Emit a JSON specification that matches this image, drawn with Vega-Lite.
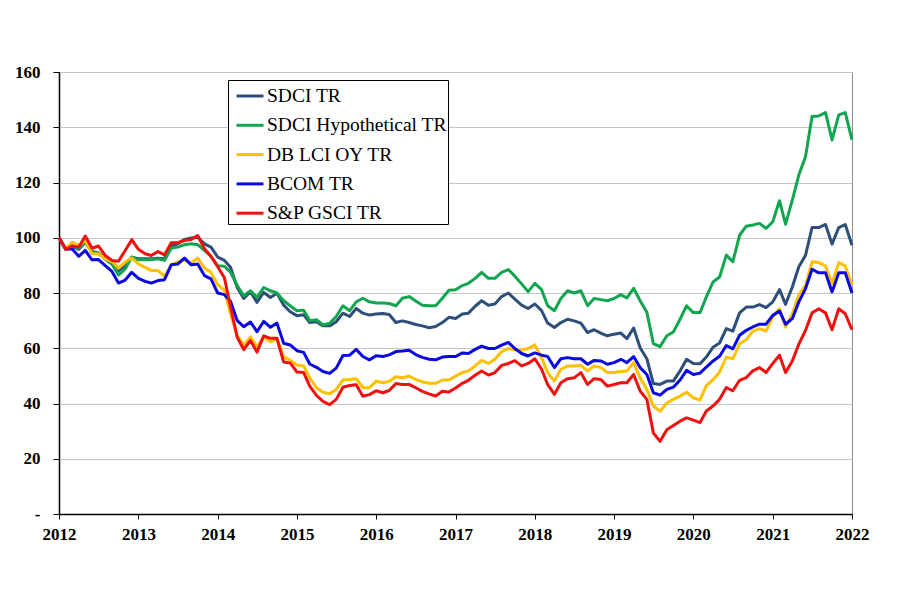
{
"$schema": "https://vega.github.io/schema/vega-lite/v6.json",
"width": 793, "height": 442,
"autosize": {"type": "none"},
"padding": {"left": 59, "top": 72, "right": 48, "bottom": 97},
"background": "white",
"config": {"view": {"stroke": "#8c8c8c", "strokeWidth": 1}, "font": "Liberation Serif"},
"data": {"values": [
{"date":"2012-01","SDCI TR":100,"SDCI Hypothetical TR":100,"DB LCI OY TR":100,"BCOM TR":100,"S&P GSCI TR":100},
{"date":"2012-02","SDCI TR":95.8,"SDCI Hypothetical TR":96,"DB LCI OY TR":96,"BCOM TR":95.8,"S&P GSCI TR":95.8},
{"date":"2012-03","SDCI TR":97,"SDCI Hypothetical TR":97,"DB LCI OY TR":98.4,"BCOM TR":96,"S&P GSCI TR":97},
{"date":"2012-04","SDCI TR":95.8,"SDCI Hypothetical TR":96.2,"DB LCI OY TR":97.2,"BCOM TR":93.3,"S&P GSCI TR":96.6},
{"date":"2012-05","SDCI TR":98.4,"SDCI Hypothetical TR":98.4,"DB LCI OY TR":99,"BCOM TR":95.4,"S&P GSCI TR":100.6},
{"date":"2012-06","SDCI TR":95,"SDCI Hypothetical TR":95,"DB LCI OY TR":94.2,"BCOM TR":92,"S&P GSCI TR":96.2},
{"date":"2012-07","SDCI TR":94.5,"SDCI Hypothetical TR":94.2,"DB LCI OY TR":94.2,"BCOM TR":92.1,"S&P GSCI TR":97},
{"date":"2012-08","SDCI TR":92.4,"SDCI Hypothetical TR":92.4,"DB LCI OY TR":92.4,"BCOM TR":89.9,"S&P GSCI TR":93.6},
{"date":"2012-09","SDCI TR":90.5,"SDCI Hypothetical TR":90.5,"DB LCI OY TR":91.4,"BCOM TR":87.8,"S&P GSCI TR":91.8},
{"date":"2012-10","SDCI TR":88.1,"SDCI Hypothetical TR":86.5,"DB LCI OY TR":89,"BCOM TR":83.6,"S&P GSCI TR":91.5},
{"date":"2012-11","SDCI TR":89.7,"SDCI Hypothetical TR":88.7,"DB LCI OY TR":91.2,"BCOM TR":84.7,"S&P GSCI TR":95.4},
{"date":"2012-12","SDCI TR":93,"SDCI Hypothetical TR":93,"DB LCI OY TR":92.7,"BCOM TR":87.5,"S&P GSCI TR":99.3},
{"date":"2013-01","SDCI TR":92.4,"SDCI Hypothetical TR":92,"DB LCI OY TR":90.5,"BCOM TR":85.3,"S&P GSCI TR":95.8},
{"date":"2013-02","SDCI TR":92.4,"SDCI Hypothetical TR":92,"DB LCI OY TR":89.3,"BCOM TR":84.2,"S&P GSCI TR":94.2},
{"date":"2013-03","SDCI TR":92.4,"SDCI Hypothetical TR":92,"DB LCI OY TR":88.1,"BCOM TR":83.6,"S&P GSCI TR":93.6},
{"date":"2013-04","SDCI TR":92.6,"SDCI Hypothetical TR":92.4,"DB LCI OY TR":88.1,"BCOM TR":84.5,"S&P GSCI TR":95},
{"date":"2013-05","SDCI TR":92.4,"SDCI Hypothetical TR":91.8,"DB LCI OY TR":86.1,"BCOM TR":84.8,"S&P GSCI TR":93.8},
{"date":"2013-06","SDCI TR":97,"SDCI Hypothetical TR":96.2,"DB LCI OY TR":90.2,"BCOM TR":90.2,"S&P GSCI TR":98.2},
{"date":"2013-07","SDCI TR":97.8,"SDCI Hypothetical TR":96.6,"DB LCI OY TR":91.2,"BCOM TR":90.5,"S&P GSCI TR":98.2},
{"date":"2013-08","SDCI TR":99.4,"SDCI Hypothetical TR":97.5,"DB LCI OY TR":91.8,"BCOM TR":92.6,"S&P GSCI TR":99},
{"date":"2013-09","SDCI TR":99.9,"SDCI Hypothetical TR":97.8,"DB LCI OY TR":90.9,"BCOM TR":90.2,"S&P GSCI TR":99.4},
{"date":"2013-10","SDCI TR":100.2,"SDCI Hypothetical TR":97.5,"DB LCI OY TR":92.6,"BCOM TR":90.5,"S&P GSCI TR":100.8},
{"date":"2013-11","SDCI TR":97.8,"SDCI Hypothetical TR":95.4,"DB LCI OY TR":89,"BCOM TR":86.3,"S&P GSCI TR":96},
{"date":"2013-12","SDCI TR":96.6,"SDCI Hypothetical TR":93.3,"DB LCI OY TR":87.5,"BCOM TR":85.1,"S&P GSCI TR":93.3},
{"date":"2014-01","SDCI TR":93,"SDCI Hypothetical TR":89.9,"DB LCI OY TR":83,"BCOM TR":80,"S&P GSCI TR":89.5},
{"date":"2014-02","SDCI TR":91.8,"SDCI Hypothetical TR":89.7,"DB LCI OY TR":81,"BCOM TR":79.4,"S&P GSCI TR":85.5},
{"date":"2014-03","SDCI TR":89.3,"SDCI Hypothetical TR":87.5,"DB LCI OY TR":72.5,"BCOM TR":77,"S&P GSCI TR":75},
{"date":"2014-04","SDCI TR":82,"SDCI Hypothetical TR":82.7,"DB LCI OY TR":64.7,"BCOM TR":70,"S&P GSCI TR":64},
{"date":"2014-05","SDCI TR":78,"SDCI Hypothetical TR":79,"DB LCI OY TR":61.1,"BCOM TR":67.8,"S&P GSCI TR":59.5},
{"date":"2014-06","SDCI TR":80.5,"SDCI Hypothetical TR":80.8,"DB LCI OY TR":64.1,"BCOM TR":69.5,"S&P GSCI TR":62.8},
{"date":"2014-07","SDCI TR":76.6,"SDCI Hypothetical TR":78.4,"DB LCI OY TR":60.5,"BCOM TR":66,"S&P GSCI TR":58.6},
{"date":"2014-08","SDCI TR":80.2,"SDCI Hypothetical TR":82,"DB LCI OY TR":64.1,"BCOM TR":69.7,"S&P GSCI TR":64.5},
{"date":"2014-09","SDCI TR":78.4,"SDCI Hypothetical TR":80.8,"DB LCI OY TR":62.3,"BCOM TR":67.6,"S&P GSCI TR":63.6},
{"date":"2014-10","SDCI TR":79.9,"SDCI Hypothetical TR":80,"DB LCI OY TR":63.5,"BCOM TR":69.1,"S&P GSCI TR":63.6},
{"date":"2014-11","SDCI TR":75.6,"SDCI Hypothetical TR":77.2,"DB LCI OY TR":56.9,"BCOM TR":61.8,"S&P GSCI TR":55},
{"date":"2014-12","SDCI TR":73.2,"SDCI Hypothetical TR":75.4,"DB LCI OY TR":55.7,"BCOM TR":61.2,"S&P GSCI TR":54.7},
{"date":"2015-01","SDCI TR":71.8,"SDCI Hypothetical TR":73.6,"DB LCI OY TR":53.9,"BCOM TR":59.1,"S&P GSCI TR":51.4},
{"date":"2015-02","SDCI TR":72.1,"SDCI Hypothetical TR":73.8,"DB LCI OY TR":53.6,"BCOM TR":58.5,"S&P GSCI TR":51.2},
{"date":"2015-03","SDCI TR":69.3,"SDCI Hypothetical TR":70,"DB LCI OY TR":49.3,"BCOM TR":54.3,"S&P GSCI TR":46.3},
{"date":"2015-04","SDCI TR":69.6,"SDCI Hypothetical TR":70.3,"DB LCI OY TR":45.7,"BCOM TR":53.1,"S&P GSCI TR":42.9},
{"date":"2015-05","SDCI TR":68.1,"SDCI Hypothetical TR":68.5,"DB LCI OY TR":44.1,"BCOM TR":51.6,"S&P GSCI TR":40.8},
{"date":"2015-06","SDCI TR":68.1,"SDCI Hypothetical TR":69,"DB LCI OY TR":43.5,"BCOM TR":50.9,"S&P GSCI TR":39.6},
{"date":"2015-07","SDCI TR":69.6,"SDCI Hypothetical TR":71.5,"DB LCI OY TR":45.1,"BCOM TR":52.8,"S&P GSCI TR":41.5},
{"date":"2015-08","SDCI TR":72.7,"SDCI Hypothetical TR":75.4,"DB LCI OY TR":48.5,"BCOM TR":57.4,"S&P GSCI TR":45.9},
{"date":"2015-09","SDCI TR":71.5,"SDCI Hypothetical TR":73.6,"DB LCI OY TR":48.7,"BCOM TR":57.5,"S&P GSCI TR":46.5},
{"date":"2015-10","SDCI TR":74.4,"SDCI Hypothetical TR":76.8,"DB LCI OY TR":49,"BCOM TR":59.6,"S&P GSCI TR":46.8},
{"date":"2015-11","SDCI TR":72.7,"SDCI Hypothetical TR":78.1,"DB LCI OY TR":45.7,"BCOM TR":57,"S&P GSCI TR":42.6},
{"date":"2015-12","SDCI TR":72,"SDCI Hypothetical TR":76.8,"DB LCI OY TR":45.7,"BCOM TR":55.8,"S&P GSCI TR":43.2},
{"date":"2016-01","SDCI TR":72.4,"SDCI Hypothetical TR":76.4,"DB LCI OY TR":48.1,"BCOM TR":57.3,"S&P GSCI TR":44.6},
{"date":"2016-02","SDCI TR":72.6,"SDCI Hypothetical TR":76.4,"DB LCI OY TR":47.5,"BCOM TR":57,"S&P GSCI TR":43.9},
{"date":"2016-03","SDCI TR":72.2,"SDCI Hypothetical TR":76.2,"DB LCI OY TR":48,"BCOM TR":57.6,"S&P GSCI TR":44.7},
{"date":"2016-04","SDCI TR":69.3,"SDCI Hypothetical TR":75.4,"DB LCI OY TR":49.7,"BCOM TR":58.8,"S&P GSCI TR":47.2},
{"date":"2016-05","SDCI TR":69.9,"SDCI Hypothetical TR":78.1,"DB LCI OY TR":49.3,"BCOM TR":59,"S&P GSCI TR":46.9},
{"date":"2016-06","SDCI TR":69.3,"SDCI Hypothetical TR":78.7,"DB LCI OY TR":49.9,"BCOM TR":59.3,"S&P GSCI TR":46.9},
{"date":"2016-07","SDCI TR":68.6,"SDCI Hypothetical TR":77.1,"DB LCI OY TR":48.7,"BCOM TR":57.7,"S&P GSCI TR":45.7},
{"date":"2016-08","SDCI TR":68.1,"SDCI Hypothetical TR":75.6,"DB LCI OY TR":47.8,"BCOM TR":56.7,"S&P GSCI TR":44.4},
{"date":"2016-09","SDCI TR":67.4,"SDCI Hypothetical TR":75.4,"DB LCI OY TR":47.3,"BCOM TR":56,"S&P GSCI TR":43.5},
{"date":"2016-10","SDCI TR":67.9,"SDCI Hypothetical TR":75.4,"DB LCI OY TR":47.3,"BCOM TR":55.8,"S&P GSCI TR":42.7},
{"date":"2016-11","SDCI TR":69.3,"SDCI Hypothetical TR":78.1,"DB LCI OY TR":48.5,"BCOM TR":56.8,"S&P GSCI TR":44.4},
{"date":"2016-12","SDCI TR":71.2,"SDCI Hypothetical TR":81,"DB LCI OY TR":48.5,"BCOM TR":57,"S&P GSCI TR":44.2},
{"date":"2017-01","SDCI TR":70.8,"SDCI Hypothetical TR":81.2,"DB LCI OY TR":49.9,"BCOM TR":57,"S&P GSCI TR":45.6},
{"date":"2017-02","SDCI TR":72.4,"SDCI Hypothetical TR":82.7,"DB LCI OY TR":51.2,"BCOM TR":58.3,"S&P GSCI TR":47.3},
{"date":"2017-03","SDCI TR":72.7,"SDCI Hypothetical TR":83.5,"DB LCI OY TR":51.8,"BCOM TR":58.1,"S&P GSCI TR":48.4},
{"date":"2017-04","SDCI TR":75.2,"SDCI Hypothetical TR":85.3,"DB LCI OY TR":53.6,"BCOM TR":59.6,"S&P GSCI TR":50.2},
{"date":"2017-05","SDCI TR":77.2,"SDCI Hypothetical TR":87.5,"DB LCI OY TR":55.6,"BCOM TR":60.8,"S&P GSCI TR":51.8},
{"date":"2017-06","SDCI TR":75.6,"SDCI Hypothetical TR":85.3,"DB LCI OY TR":54.5,"BCOM TR":59.9,"S&P GSCI TR":50.3},
{"date":"2017-07","SDCI TR":76,"SDCI Hypothetical TR":85.3,"DB LCI OY TR":56,"BCOM TR":59.9,"S&P GSCI TR":51.2},
{"date":"2017-08","SDCI TR":78.7,"SDCI Hypothetical TR":87.5,"DB LCI OY TR":58.8,"BCOM TR":61.1,"S&P GSCI TR":53.8},
{"date":"2017-09","SDCI TR":80,"SDCI Hypothetical TR":88.5,"DB LCI OY TR":59.9,"BCOM TR":62.1,"S&P GSCI TR":54.5},
{"date":"2017-10","SDCI TR":77.8,"SDCI Hypothetical TR":86.1,"DB LCI OY TR":59.4,"BCOM TR":59.9,"S&P GSCI TR":55.5},
{"date":"2017-11","SDCI TR":75.6,"SDCI Hypothetical TR":83.3,"DB LCI OY TR":59.4,"BCOM TR":58.1,"S&P GSCI TR":53.6},
{"date":"2017-12","SDCI TR":74.4,"SDCI Hypothetical TR":80.5,"DB LCI OY TR":59.9,"BCOM TR":57.2,"S&P GSCI TR":54.5},
{"date":"2018-01","SDCI TR":76,"SDCI Hypothetical TR":83.5,"DB LCI OY TR":61.2,"BCOM TR":58.3,"S&P GSCI TR":56.2},
{"date":"2018-02","SDCI TR":73.6,"SDCI Hypothetical TR":81.2,"DB LCI OY TR":56.6,"BCOM TR":57.5,"S&P GSCI TR":52.4},
{"date":"2018-03","SDCI TR":69.1,"SDCI Hypothetical TR":75.4,"DB LCI OY TR":51.2,"BCOM TR":57,"S&P GSCI TR":46.9},
{"date":"2018-04","SDCI TR":67.5,"SDCI Hypothetical TR":73.6,"DB LCI OY TR":48.1,"BCOM TR":53,"S&P GSCI TR":43.3},
{"date":"2018-05","SDCI TR":69.3,"SDCI Hypothetical TR":78,"DB LCI OY TR":52.4,"BCOM TR":56.2,"S&P GSCI TR":47.5},
{"date":"2018-06","SDCI TR":70.5,"SDCI Hypothetical TR":80.8,"DB LCI OY TR":53.6,"BCOM TR":56.6,"S&P GSCI TR":49},
{"date":"2018-07","SDCI TR":69.9,"SDCI Hypothetical TR":80,"DB LCI OY TR":53.6,"BCOM TR":56.2,"S&P GSCI TR":49.3},
{"date":"2018-08","SDCI TR":69.1,"SDCI Hypothetical TR":80.8,"DB LCI OY TR":53.8,"BCOM TR":56.2,"S&P GSCI TR":51.2},
{"date":"2018-09","SDCI TR":65.7,"SDCI Hypothetical TR":75.4,"DB LCI OY TR":51.8,"BCOM TR":54.2,"S&P GSCI TR":46.9},
{"date":"2018-10","SDCI TR":66.7,"SDCI Hypothetical TR":78,"DB LCI OY TR":53.6,"BCOM TR":55.6,"S&P GSCI TR":49},
{"date":"2018-11","SDCI TR":65.5,"SDCI Hypothetical TR":77.6,"DB LCI OY TR":53,"BCOM TR":55.4,"S&P GSCI TR":48.7},
{"date":"2018-12","SDCI TR":64.5,"SDCI Hypothetical TR":77.2,"DB LCI OY TR":51.2,"BCOM TR":54.2,"S&P GSCI TR":46.3},
{"date":"2019-01","SDCI TR":65.1,"SDCI Hypothetical TR":78,"DB LCI OY TR":51.2,"BCOM TR":54.8,"S&P GSCI TR":46.9},
{"date":"2019-02","SDCI TR":65.5,"SDCI Hypothetical TR":79.4,"DB LCI OY TR":51.6,"BCOM TR":56,"S&P GSCI TR":47.5},
{"date":"2019-03","SDCI TR":63.5,"SDCI Hypothetical TR":78.2,"DB LCI OY TR":51.8,"BCOM TR":54.8,"S&P GSCI TR":47.5},
{"date":"2019-04","SDCI TR":67.3,"SDCI Hypothetical TR":81.7,"DB LCI OY TR":54.8,"BCOM TR":57,"S&P GSCI TR":50.5},
{"date":"2019-05","SDCI TR":60.2,"SDCI Hypothetical TR":77.2,"DB LCI OY TR":49.3,"BCOM TR":53,"S&P GSCI TR":44.5},
{"date":"2019-06","SDCI TR":56.2,"SDCI Hypothetical TR":73,"DB LCI OY TR":45.1,"BCOM TR":50.5,"S&P GSCI TR":41.5},
{"date":"2019-07","SDCI TR":47.2,"SDCI Hypothetical TR":61.7,"DB LCI OY TR":39.1,"BCOM TR":43.9,"S&P GSCI TR":29.3},
{"date":"2019-08","SDCI TR":46.9,"SDCI Hypothetical TR":60.6,"DB LCI OY TR":37.2,"BCOM TR":43,"S&P GSCI TR":26.3},
{"date":"2019-09","SDCI TR":48.1,"SDCI Hypothetical TR":64.5,"DB LCI OY TR":40.2,"BCOM TR":45.1,"S&P GSCI TR":30.5},
{"date":"2019-10","SDCI TR":48.1,"SDCI Hypothetical TR":65.9,"DB LCI OY TR":41.5,"BCOM TR":45.9,"S&P GSCI TR":32},
{"date":"2019-11","SDCI TR":51.8,"SDCI Hypothetical TR":70.5,"DB LCI OY TR":42.7,"BCOM TR":48.5,"S&P GSCI TR":33.6},
{"date":"2019-12","SDCI TR":56,"SDCI Hypothetical TR":75.4,"DB LCI OY TR":44.1,"BCOM TR":52,"S&P GSCI TR":34.8},
{"date":"2020-01","SDCI TR":54.5,"SDCI Hypothetical TR":72.9,"DB LCI OY TR":42,"BCOM TR":50.5,"S&P GSCI TR":34},
{"date":"2020-02","SDCI TR":54.4,"SDCI Hypothetical TR":72.9,"DB LCI OY TR":41.3,"BCOM TR":51,"S&P GSCI TR":33.1},
{"date":"2020-03","SDCI TR":56.8,"SDCI Hypothetical TR":78.6,"DB LCI OY TR":46.5,"BCOM TR":53.2,"S&P GSCI TR":37.3},
{"date":"2020-04","SDCI TR":60.4,"SDCI Hypothetical TR":84,"DB LCI OY TR":48.6,"BCOM TR":55.4,"S&P GSCI TR":39.1},
{"date":"2020-05","SDCI TR":61.9,"SDCI Hypothetical TR":85.8,"DB LCI OY TR":51.4,"BCOM TR":57.1,"S&P GSCI TR":41.5},
{"date":"2020-06","SDCI TR":67.1,"SDCI Hypothetical TR":93.7,"DB LCI OY TR":56.8,"BCOM TR":61,"S&P GSCI TR":45.8},
{"date":"2020-07","SDCI TR":66.2,"SDCI Hypothetical TR":91.3,"DB LCI OY TR":56.2,"BCOM TR":59.8,"S&P GSCI TR":44.6},
{"date":"2020-08","SDCI TR":72.8,"SDCI Hypothetical TR":100.9,"DB LCI OY TR":61.6,"BCOM TR":64.7,"S&P GSCI TR":48.4},
{"date":"2020-09","SDCI TR":74.9,"SDCI Hypothetical TR":104.2,"DB LCI OY TR":63.1,"BCOM TR":66.5,"S&P GSCI TR":49.4},
{"date":"2020-10","SDCI TR":74.9,"SDCI Hypothetical TR":104.6,"DB LCI OY TR":66.2,"BCOM TR":67.7,"S&P GSCI TR":51.8},
{"date":"2020-11","SDCI TR":75.8,"SDCI Hypothetical TR":105.2,"DB LCI OY TR":67.1,"BCOM TR":68.7,"S&P GSCI TR":53},
{"date":"2020-12","SDCI TR":74.7,"SDCI Hypothetical TR":103.4,"DB LCI OY TR":66.2,"BCOM TR":68.7,"S&P GSCI TR":51.2},
{"date":"2021-01","SDCI TR":76.8,"SDCI Hypothetical TR":105.8,"DB LCI OY TR":71.3,"BCOM TR":71.9,"S&P GSCI TR":54.5},
{"date":"2021-02","SDCI TR":81.2,"SDCI Hypothetical TR":113.4,"DB LCI OY TR":74.3,"BCOM TR":73.5,"S&P GSCI TR":57.5},
{"date":"2021-03","SDCI TR":75.9,"SDCI Hypothetical TR":104.9,"DB LCI OY TR":67.7,"BCOM TR":68.7,"S&P GSCI TR":51.2},
{"date":"2021-04","SDCI TR":82.2,"SDCI Hypothetical TR":113.6,"DB LCI OY TR":72.5,"BCOM TR":70.7,"S&P GSCI TR":55.4},
{"date":"2021-05","SDCI TR":89.5,"SDCI Hypothetical TR":122.7,"DB LCI OY TR":79.4,"BCOM TR":76.8,"S&P GSCI TR":61.5},
{"date":"2021-06","SDCI TR":93.7,"SDCI Hypothetical TR":129.4,"DB LCI OY TR":82.8,"BCOM TR":81.6,"S&P GSCI TR":66.5},
{"date":"2021-07","SDCI TR":103.7,"SDCI Hypothetical TR":143.9,"DB LCI OY TR":91.3,"BCOM TR":88.6,"S&P GSCI TR":72.8},
{"date":"2021-08","SDCI TR":103.7,"SDCI Hypothetical TR":144.1,"DB LCI OY TR":91,"BCOM TR":87.3,"S&P GSCI TR":74.3},
{"date":"2021-09","SDCI TR":104.8,"SDCI Hypothetical TR":145.3,"DB LCI OY TR":89.8,"BCOM TR":87.3,"S&P GSCI TR":72.8},
{"date":"2021-10","SDCI TR":97.7,"SDCI Hypothetical TR":135.4,"DB LCI OY TR":83.4,"BCOM TR":80.4,"S&P GSCI TR":66.7},
{"date":"2021-11","SDCI TR":103.7,"SDCI Hypothetical TR":144.5,"DB LCI OY TR":91,"BCOM TR":87.3,"S&P GSCI TR":74.3},
{"date":"2021-12","SDCI TR":104.8,"SDCI Hypothetical TR":145.3,"DB LCI OY TR":89.8,"BCOM TR":87.3,"S&P GSCI TR":72.5},
{"date":"2022-01","SDCI TR":97.3,"SDCI Hypothetical TR":135.4,"DB LCI OY TR":82.8,"BCOM TR":80,"S&P GSCI TR":66.7}
]},
"transform": [{"fold": ["SDCI TR","SDCI Hypothetical TR","DB LCI OY TR","BCOM TR","S&P GSCI TR"], "as": ["series","value"]}],
"mark": {"type": "line", "strokeWidth": 3, "strokeJoin": "round"},
"encoding": {
"x": {"field": "date", "type": "temporal",
 "scale": {"type": "utc", "domain": [{"year":2012,"month":1,"date":1,"utc":true},{"year":2022,"month":1,"date":1,"utc":true}], "nice": false},
 "axis": {"title": null, "grid": false, "format": "%Y",
  "values": [{"year":2012,"utc":true},{"year":2013,"utc":true},{"year":2014,"utc":true},{"year":2015,"utc":true},{"year":2016,"utc":true},{"year":2017,"utc":true},{"year":2018,"utc":true},{"year":2019,"utc":true},{"year":2020,"utc":true},{"year":2021,"utc":true},{"year":2022,"utc":true}],
  "domainColor": "black", "domainWidth": 1.5, "tickColor": "black", "tickSize": 5, "tickWidth": 1,
  "labelFont": "Liberation Serif", "labelFontSize": 17, "labelFontWeight": "bold", "labelColor": "black", "labelPadding": 7, "labelFlush": false, "labelOverlap": false}},
"y": {"field": "value", "type": "quantitative",
 "scale": {"domain": [0,160], "nice": false, "zero": true},
 "axis": {"title": null, "values": [0,20,40,60,80,100,120,140,160], "grid": true, "gridColor": "#c6c6c6", "gridWidth": 1,
  "labelExpr": "datum.value == 0 ? '-    ' : datum.label",
  "domainColor": "black", "domainWidth": 1.5, "tickColor": "black", "tickSize": 6, "tickWidth": 1,
  "labelFont": "Liberation Serif", "labelFontSize": 17, "labelFontWeight": "bold", "labelColor": "black", "labelPadding": 13}},
"color": {"field": "series", "type": "nominal",
 "scale": {"domain": ["SDCI TR","SDCI Hypothetical TR","DB LCI OY TR","BCOM TR","S&P GSCI TR"], "range": ["#2d4f7a","#12a550","#ffc000","#0a0ae0","#f01010"]},
 "legend": {"title": null, "orient": "none", "legendX": 169, "legendY": 8, "direction": "vertical",
  "strokeColor": "black", "fillColor": "white", "padding": 1,
  "symbolType": "stroke", "symbolStrokeWidth": 3, "symbolSize": 729, "symbolOffset": 6,
  "labelFont": "Liberation Serif", "labelFontSize": 19.5, "labelColor": "black", "labelOffset": 2, "rowPadding": 4.3, "labelLimit": 400}}
}
}
